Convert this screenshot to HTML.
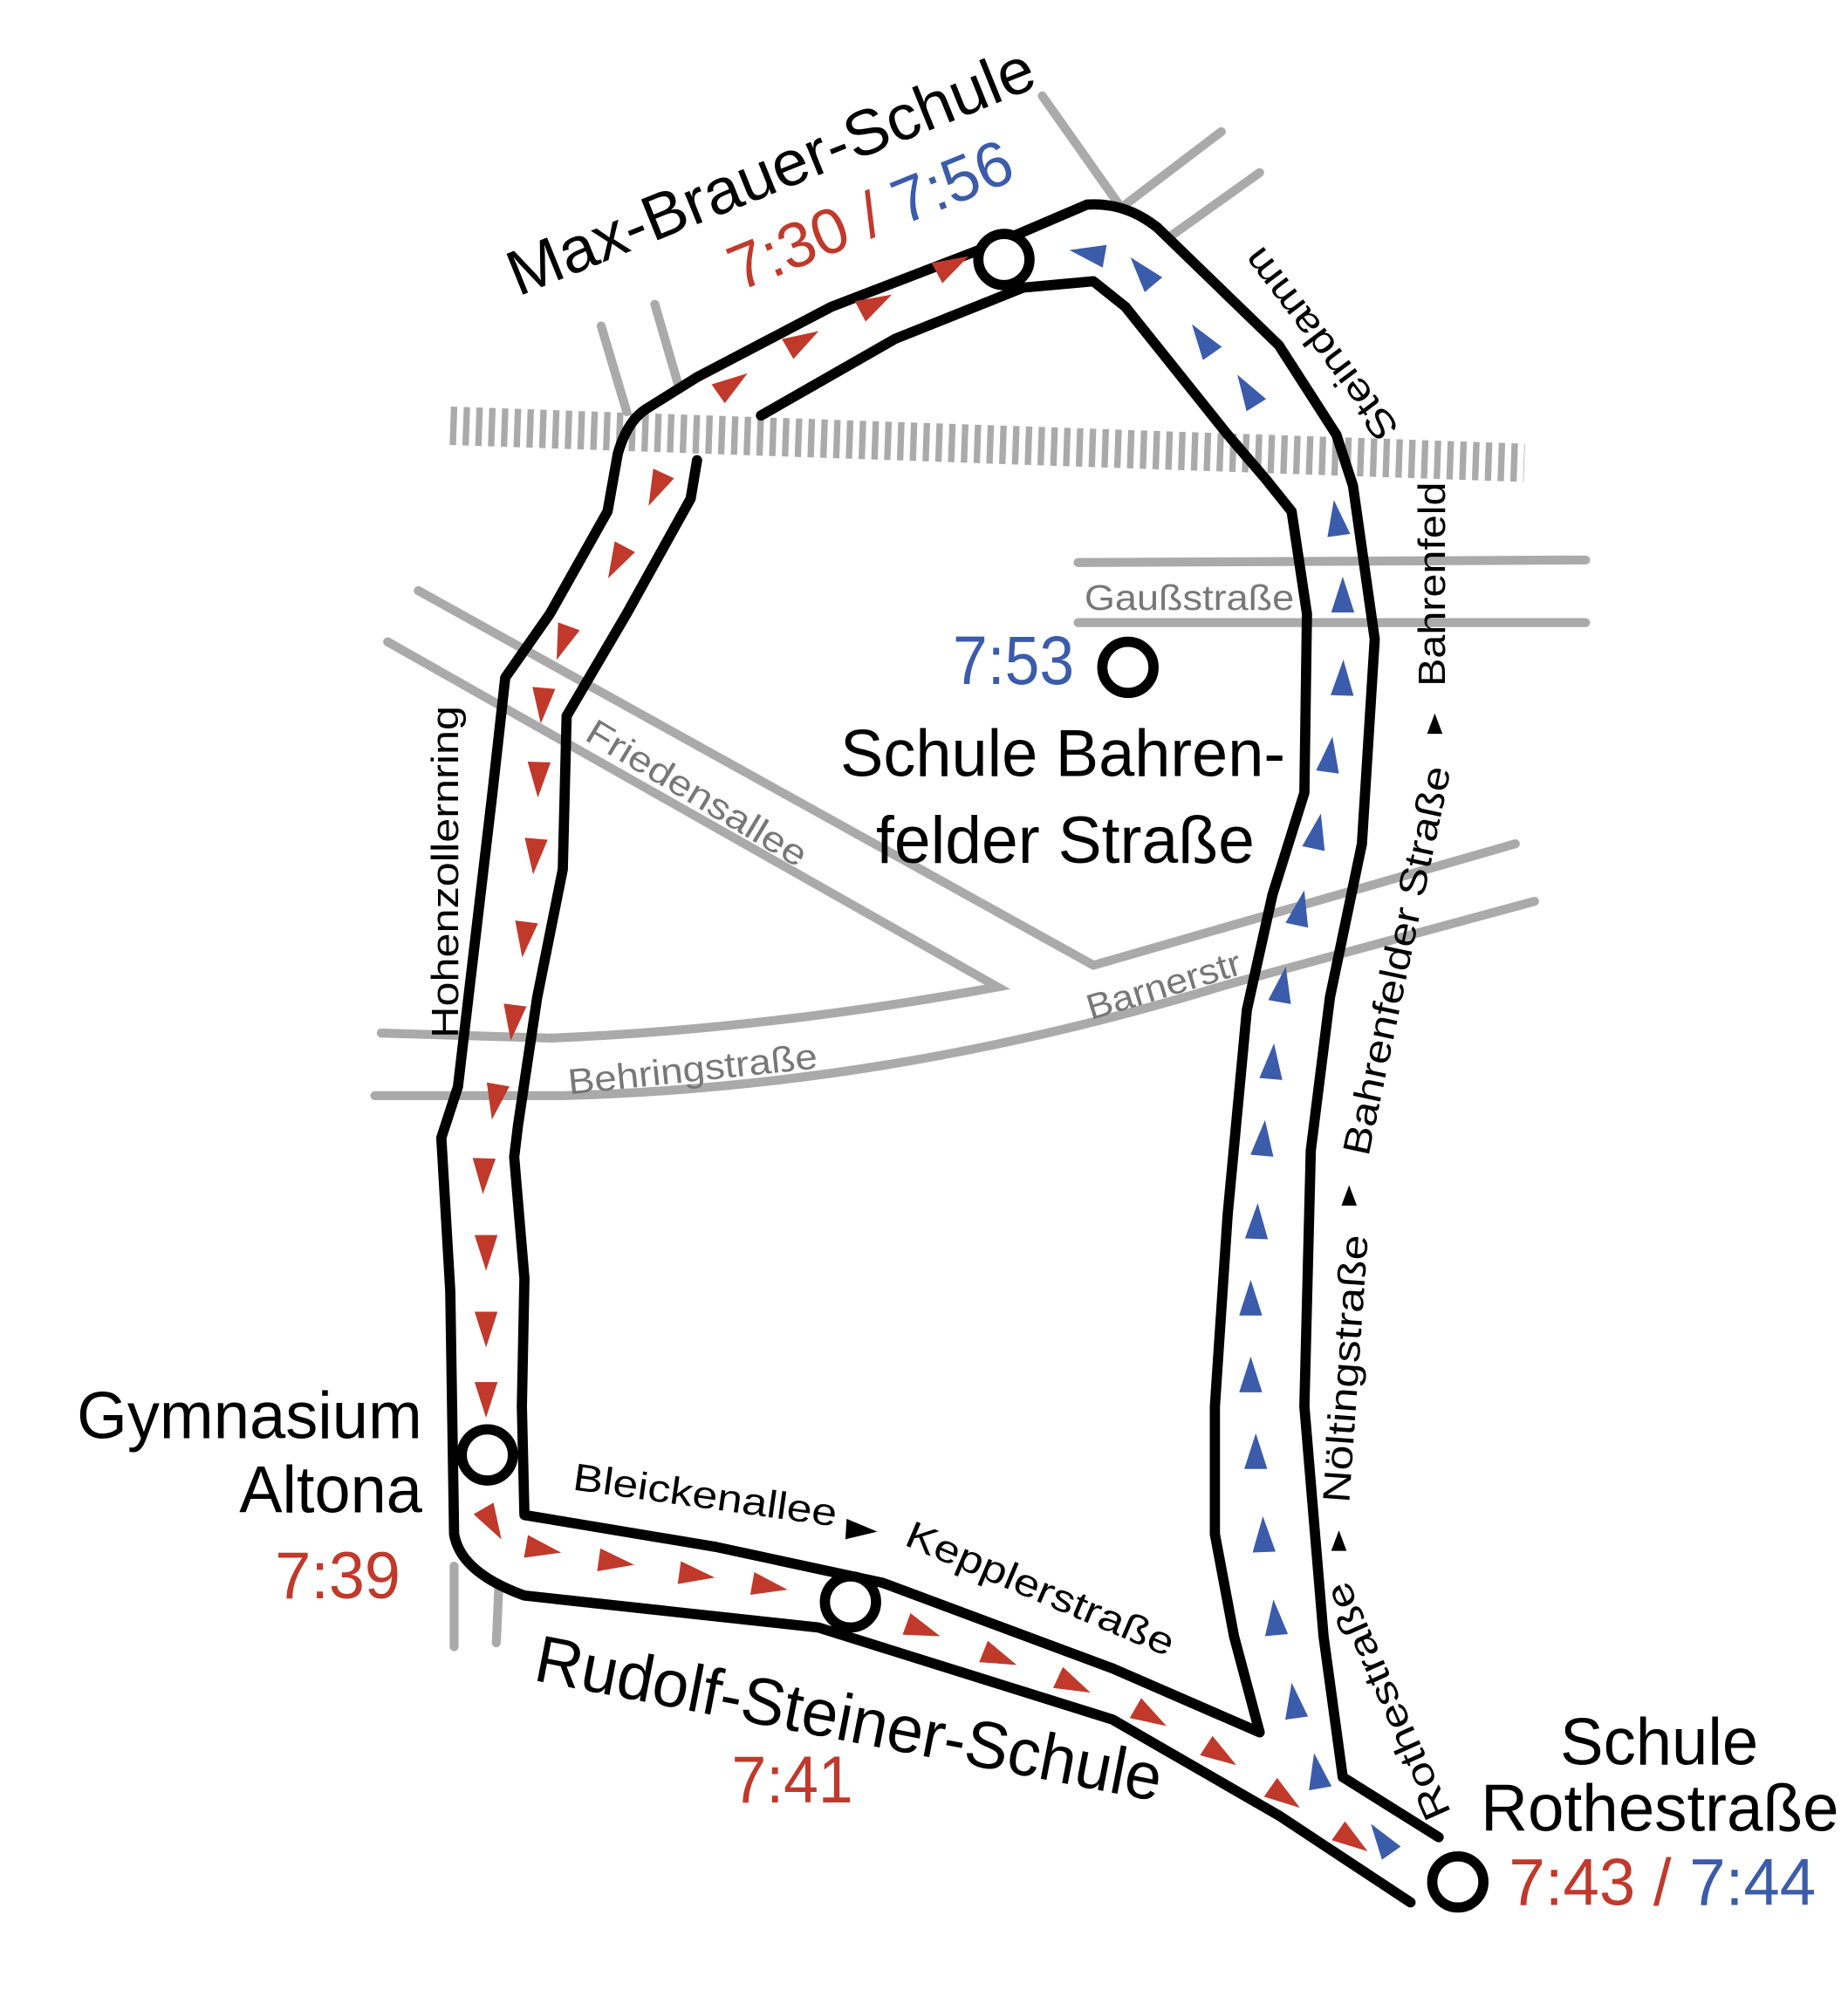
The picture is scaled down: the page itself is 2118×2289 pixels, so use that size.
<!DOCTYPE html>
<html><head><meta charset="utf-8">
<style>
html,body{margin:0;padding:0;background:#fff;}
svg{display:block;}
text{font-family:"Liberation Sans Narrow","Liberation Sans",sans-serif;}
</style></head>
<body>
<svg width="2118" height="2289" viewBox="0 0 1445 1562" xmlns="http://www.w3.org/2000/svg">
<defs>
<path id="tr" d="M14,0 L-14,-9 L-14,9 Z"/>
<path id="up" d="M0,-8 L6,8 L-6,8 Z"/>
</defs>
<rect width="1445" height="1562" fill="#fff"/>
<g stroke="#aaa" stroke-width="7" fill="none" stroke-linecap="round">
<line x1="470" y1="255" x2="490" y2="322"/>
<line x1="512" y1="238" x2="530" y2="300"/>
<line x1="815" y1="75" x2="875" y2="160"/>
<line x1="880" y1="160" x2="955" y2="103"/>
<line x1="915" y1="185" x2="985" y2="135"/>
<line x1="843" y1="440" x2="1240" y2="438"/>
<line x1="843" y1="487" x2="1240" y2="487"/>
<polyline points="327,462 855,755 1185,660"/>
<path d="M303,502 L780,772 Q600,805 430,812 L298,808"/>
<path d="M293,857 L440,857 Q700,850 960,770 L1200,705"/>
<line x1="355" y1="1225" x2="355" y2="1288"/>
<line x1="390" y1="1240" x2="388" y2="1285"/>
</g>
<line x1="352" y1="333" x2="1192" y2="362" stroke="#aaa" stroke-width="30" stroke-dasharray="5 5"/>
<g stroke="#000" stroke-width="8" fill="none" stroke-linejoin="round" stroke-linecap="round">
<path d="M1103,1488 L1000,1420 L870,1345 L640,1273 L410,1248 Q360,1230 355,1200 L352,1010 L345,890 L358,850 L385,620 L395,530 L430,480 L475,400 L483,355 Q490,330 505,320 L545,295 L650,240 L780,190 L850,160 Q880,158 905,178 L1000,270 L1045,340 L1058,380 L1075,500 L1065,660 L1040,780 L1025,900 L1020,1100 L1035,1280 L1050,1390 L1125,1437"/>
<path d="M595,325 L700,265 L800,225 L855,220 L880,240 L960,340 L990,375 L1010,400 L1022,480 L1020,620 L995,700 L975,790 L960,950 L950,1100 L950,1200 L965,1280 L985,1355 L870,1305 L690,1238 L560,1210 L410,1185 L408,1100 L410,1000 L402,905 L405,880 L420,780 L440,680 L443,560 L490,480 L540,390 L545,360"/>
</g>
<g fill="#c0392b">
<use href="#tr" transform="translate(745,207) rotate(-28)"/>
<use href="#tr" transform="translate(685,237) rotate(-28)"/>
<use href="#tr" transform="translate(628,266) rotate(-30)"/>
<use href="#tr" transform="translate(573,300) rotate(-35)"/>
<use href="#tr" transform="translate(513,383) rotate(115)"/>
<use href="#tr" transform="translate(482,440) rotate(118)"/>
<use href="#tr" transform="translate(440,503) rotate(110)"/>
<use href="#tr" transform="translate(424,552) rotate(95)"/>
<use href="#tr" transform="translate(421,610) rotate(92)"/>
<use href="#tr" transform="translate(418,670) rotate(95)"/>
<use href="#tr" transform="translate(410,735) rotate(97)"/>
<use href="#tr" transform="translate(401,800) rotate(97)"/>
<use href="#tr" transform="translate(387,862) rotate(100)"/>
<use href="#tr" transform="translate(378,920) rotate(92)"/>
<use href="#tr" transform="translate(380,980) rotate(90)"/>
<use href="#tr" transform="translate(380,1040) rotate(90)"/>
<use href="#tr" transform="translate(380,1095) rotate(90)"/>
<use href="#tr" transform="translate(385,1192) rotate(60)"/>
<use href="#tr" transform="translate(425,1212) rotate(10)"/>
<use href="#tr" transform="translate(482,1222) rotate(8)"/>
<use href="#tr" transform="translate(545,1232) rotate(8)"/>
<use href="#tr" transform="translate(602,1241) rotate(10)"/>
<use href="#tr" transform="translate(722,1275) rotate(20)"/>
<use href="#tr" transform="translate(782,1297) rotate(22)"/>
<use href="#tr" transform="translate(840,1318) rotate(25)"/>
<use href="#tr" transform="translate(900,1343) rotate(30)"/>
<use href="#tr" transform="translate(955,1373) rotate(33)"/>
<use href="#tr" transform="translate(1005,1406) rotate(35)"/>
<use href="#tr" transform="translate(1058,1440) rotate(35)"/>
</g>
<g fill="#3b5bab">
<use href="#tr" transform="translate(1080,1438) rotate(-125)"/>
<use href="#tr" transform="translate(1030,1385) rotate(-100)"/>
<use href="#tr" transform="translate(1012,1330) rotate(-98)"/>
<use href="#tr" transform="translate(997,1265) rotate(-95)"/>
<use href="#tr" transform="translate(988,1200) rotate(-92)"/>
<use href="#tr" transform="translate(982,1135) rotate(-90)"/>
<use href="#tr" transform="translate(978,1075) rotate(-90)"/>
<use href="#tr" transform="translate(978,1015) rotate(-90)"/>
<use href="#tr" transform="translate(983,955) rotate(-88)"/>
<use href="#tr" transform="translate(988,890) rotate(-85)"/>
<use href="#tr" transform="translate(995,830) rotate(-85)"/>
<use href="#tr" transform="translate(1003,770) rotate(-80)"/>
<use href="#tr" transform="translate(1017,710) rotate(-78)"/>
<use href="#tr" transform="translate(1030,650) rotate(-78)"/>
<use href="#tr" transform="translate(1040,590) rotate(-82)"/>
<use href="#tr" transform="translate(1050,530) rotate(-88)"/>
<use href="#tr" transform="translate(1050,465) rotate(-90)"/>
<use href="#tr" transform="translate(1045,405) rotate(-98)"/>
<use href="#tr" transform="translate(975,305) rotate(-122)"/>
<use href="#tr" transform="translate(940,265) rotate(-125)"/>
<use href="#tr" transform="translate(893,212) rotate(-130)"/>
<use href="#tr" transform="translate(850,198) rotate(-170)"/>
</g>
<g fill="#fff" stroke="#000" stroke-width="8">
<circle cx="785" cy="203" r="20"/>
<circle cx="882" cy="522" r="20"/>
<circle cx="381" cy="1138" r="20"/>
<circle cx="665" cy="1253" r="20"/>
<circle cx="1140" cy="1472" r="20"/>
</g>
<g fill="#000">
<use href="#up" transform="translate(1122,566)"/>
<use href="#up" transform="translate(1055,935)"/>
<use href="#up" transform="translate(1047,1205)"/>
</g>
<text transform="translate(405,232) rotate(-22)" font-size="50" textLength="440" lengthAdjust="spacingAndGlyphs">Max-Brauer-Schule</text>
<text transform="translate(578,228) rotate(-22)" font-size="50" textLength="235" lengthAdjust="spacingAndGlyphs"><tspan fill="#c0392b">7:30 / </tspan><tspan fill="#3b5bab">7:56</tspan></text>
<text transform="translate(1095,335) rotate(-127)" font-size="30" textLength="180" lengthAdjust="spacingAndGlyphs">Steindamm</text>
<text transform="translate(1130,537) rotate(-90)" font-size="30" textLength="160" lengthAdjust="spacingAndGlyphs">Bahrenfeld</text>
<text transform="translate(1070,905) rotate(-78)" font-size="30" textLength="310" lengthAdjust="spacingAndGlyphs">Bahrenfelder Straße</text>
<text transform="translate(1055,1176) rotate(-86)" font-size="30" textLength="210" lengthAdjust="spacingAndGlyphs">Nöltingstraße</text>
<text transform="translate(1135,1418) rotate(-114)" font-size="30" textLength="200" lengthAdjust="spacingAndGlyphs">Rothestraße</text>
<text transform="translate(358,812) rotate(-90)" font-size="30" textLength="260" lengthAdjust="spacingAndGlyphs">Hohenzollernring</text>
<text transform="translate(456,578) rotate(31)" font-size="28" fill="#777" textLength="196" lengthAdjust="spacingAndGlyphs">Friedensallee</text>
<text x="848" y="477" font-size="28" fill="#777" textLength="164" lengthAdjust="spacingAndGlyphs">Gaußstraße</text>
<text transform="translate(853,798) rotate(-17)" font-size="28" fill="#777" textLength="125" lengthAdjust="spacingAndGlyphs">Barnerstr</text>
<text transform="translate(445,856) rotate(-6)" font-size="28" fill="#777" textLength="196" lengthAdjust="spacingAndGlyphs">Behringstraße</text>
<text x="745" y="535" font-size="54" fill="#3b5bab" textLength="95" lengthAdjust="spacingAndGlyphs">7:53</text>
<text x="657" y="607" font-size="52" textLength="348" lengthAdjust="spacingAndGlyphs">Schule Bahren-</text>
<text x="685" y="675" font-size="52" textLength="296" lengthAdjust="spacingAndGlyphs">felder Straße</text>
<text x="60" y="1125" font-size="52" textLength="270" lengthAdjust="spacingAndGlyphs">Gymnasium</text>
<text x="187" y="1183" font-size="52" textLength="143" lengthAdjust="spacingAndGlyphs">Altona</text>
<text x="215" y="1250" font-size="52" fill="#c0392b" textLength="98" lengthAdjust="spacingAndGlyphs">7:39</text>
<text transform="translate(447,1165) rotate(8)" font-size="30" textLength="208" lengthAdjust="spacingAndGlyphs">Bleickenallee</text>
<path d="M662,1188 L686,1198 L661,1204 Z" fill="#000"/>
<text transform="translate(706,1208) rotate(23)" font-size="30" textLength="225" lengthAdjust="spacingAndGlyphs">Kepplerstraße</text>
<text transform="translate(416,1314) rotate(11)" font-size="52" textLength="498" lengthAdjust="spacingAndGlyphs">Rudolf-Steiner-Schule</text>
<text x="572" y="1410" font-size="52" fill="#c0392b" textLength="95" lengthAdjust="spacingAndGlyphs">7:41</text>
<text x="1220" y="1380" font-size="52" textLength="155" lengthAdjust="spacingAndGlyphs">Schule</text>
<text x="1158" y="1432" font-size="52" textLength="280" lengthAdjust="spacingAndGlyphs">Rothestraße</text>
<text x="1180" y="1490" font-size="52" textLength="240" lengthAdjust="spacingAndGlyphs"><tspan fill="#c0392b">7:43 / </tspan><tspan fill="#3b5bab">7:44</tspan></text>
</svg>
</body></html>
